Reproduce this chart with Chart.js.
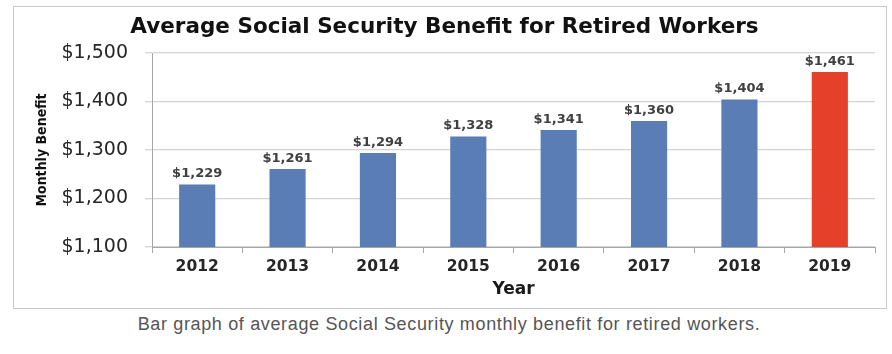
<!DOCTYPE html>
<html>
<head>
<meta charset="utf-8">
<script src="https://cdn.jsdelivr.net/npm/chart.js@4/dist/chart.umd.min.js"></script>
<style>
  body { margin: 0; background: #fff; width: 892px; height: 354px; position: relative; overflow: hidden; }
  #box { position: absolute; left: 13px; top: 6px; width: 872px; height: 301px; border: 1px solid #c9c9c9; }
  #caption { position: absolute; left: 0; top: 314px; width: 898px; text-align: center;
             font-family: 'Liberation Sans', Arial, sans-serif; font-size: 18px; letter-spacing: 0.65px; color: #555; }
</style>
</head>
<body>
<div id="box"><canvas id="grafico" width="872" height="301"></canvas></div>
<div id="caption">Bar graph of average Social Security monthly benefit for retired workers.</div>
<script>
// datos del grafico
const years = ['2012', '2013', '2014', '2015', '2016', '2017', '2018', '2019'];
const benefit = [1229, 1261, 1294, 1328, 1341, 1360, 1404, 1461];
const yTicks = [1100, 1200, 1300, 1400, 1500];

const azul = '#5a7db6';
const rojo = '#e5412a';

function dinero(v) {
    return '$' + v.toLocaleString('en-US');
}

// etiquetas encima de cada barra
const etiquetas = {
    id: 'etiquetas',
    afterDatasetsDraw(chart) {
        const ctx = chart.ctx;
        const meta = chart.getDatasetMeta(0);
        ctx.save();
        ctx.font = 'bold 13px "DejaVu Sans"';
        ctx.fillStyle = '#404040';
        ctx.textAlign = 'center';
        ctx.textBaseline = 'bottom';
        meta.data.forEach((bar, i) => {
            ctx.fillText(dinero(benefit[i]), bar.x, bar.y - 4);
        });
        ctx.restore();
    }
};

Chart.defaults.font.family = '"DejaVu Sans", sans-serif';

const ctx = document.getElementById('grafico').getContext('2d');
const myChart = new Chart(ctx, {
    type: 'bar',
    data: {
        labels: years,
        datasets: [{
            data: benefit,
            backgroundColor: years.map((y, i) => i === years.length - 1 ? rojo : azul),
            barPercentage: 0.4,
            categoryPercentage: 1
        }]
    },
    options: {
        responsive: false,
        animation: false,
        layout: { padding: { left: 0, right: 11, top: 0, bottom: 0 } },
        plugins: {
            legend: { display: false },
            tooltip: { enabled: false },
            title: {
                display: true,
                text: 'Average Social Security Benefit for Retired Workers',
                color: '#111',
                font: { size: 21.5, weight: 'bold' },
                padding: { top: 8, bottom: 12.2 }
            }
        },
        scales: {
            x: {
                offset: true,
                grid: { offset: true, drawOnChartArea: false, tickLength: 6, color: '#a6a6a6' },
                border: { color: '#a6a6a6' },
                ticks: { color: '#262626', font: { size: 15.5, weight: 'bold' }, padding: 5 },
                title: {
                    display: true, text: 'Year', color: '#1a1a1a',
                    font: { size: 17, weight: 'bold' }, padding: { top: 0, bottom: 8 }
                },
                afterFit(scale) { scale.height = 61; }
            },
            y: {
                min: 1100,
                max: 1500,
                afterBuildTicks(scale) { scale.ticks = yTicks.map(v => ({ value: v })); },
                grid: { color: '#d4d4d4', tickLength: 7, lineWidth: 1.3 },
                border: { color: '#a6a6a6' },
                ticks: {
                    color: '#262626', font: { size: 19 }, padding: 17,
                    callback: v => dinero(v)
                },
                title: {
                    display: true, text: 'Monthly Benefit', color: '#111',
                    font: { family: '"Liberation Sans Narrow", "DejaVu Sans Condensed", sans-serif', size: 14, weight: 'bold' },
                    padding: { top: 20, bottom: 0 }
                },
                afterFit(scale) { scale.width = 138; }
            }
        }
    },
    plugins: [etiquetas]
});
</script>
</body>
</html>
